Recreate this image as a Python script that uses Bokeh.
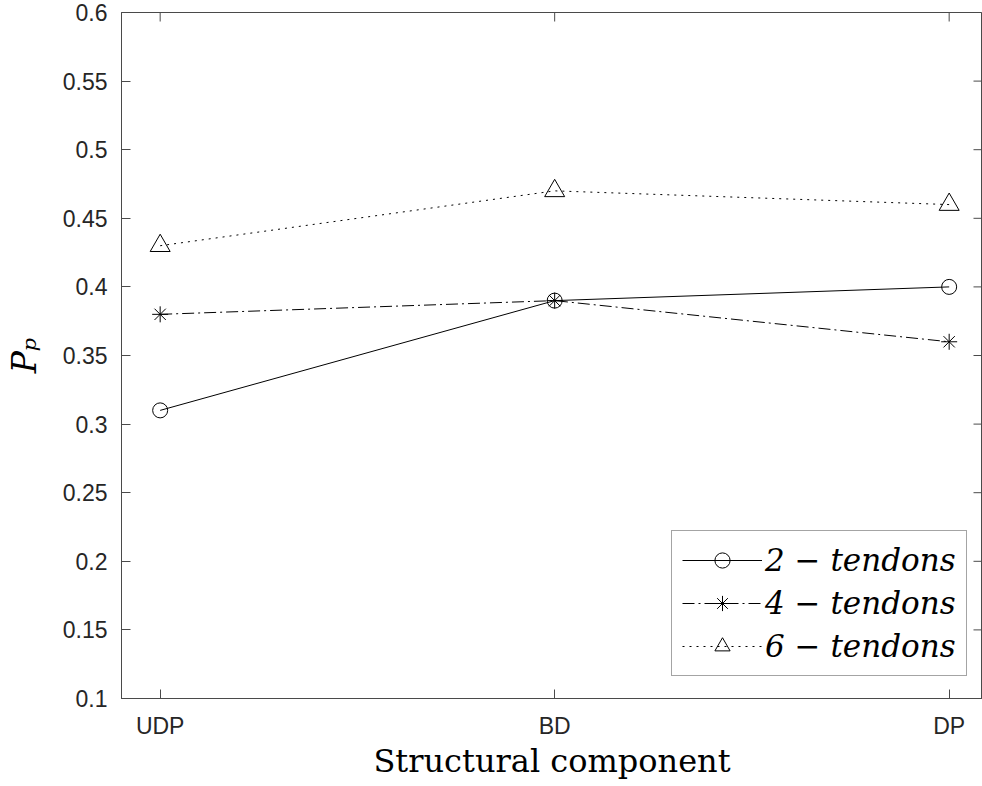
from bokeh.plotting import figure
from bokeh.models import Range1d, FixedTicker, Legend, LegendItem
from bokeh.embed import file_html
from bokeh.resources import INLINE

# ---- data ----
categories = ["UDP", "BD", "DP"]
cat_pos = [1, 2, 3]
tendons2 = [0.31, 0.39, 0.40]
tendons4 = [0.38, 0.39, 0.36]
tendons6 = [0.43, 0.47, 0.46]
series_labels = ["2 \u2212 tendons", "4 \u2212 tendons", "6 \u2212 tendons"]
y_ticks = [0.1, 0.15, 0.2, 0.25, 0.3, 0.35, 0.4, 0.45, 0.5, 0.55, 0.6]
y_tick_labels = ["0.1", "0.15", "0.2", "0.25", "0.3", "0.35", "0.4", "0.45", "0.5", "0.55", "0.6"]
x_title = "Structural component"
y_title = "P\u209a"

AX = "#4a4a4a"
TXT = "#262626"
FIG_W, FIG_H = 982, 786
B_LEFT, B_TOP, B_RIGHT = 121, 12, 0
FRAME_H = 686
FRAME_W = FIG_W - B_LEFT - B_RIGHT
X0 = 0.902
PX_PER_X = 394.5
X1 = X0 + FRAME_W / PX_PER_X
Y0, Y1 = 0.1, 0.6
PX_PER_Y = FRAME_H / (Y1 - Y0)

p = figure(width=FIG_W, height=FIG_H,
           x_range=Range1d(X0, X1), y_range=Range1d(Y0, Y1),
           output_backend="svg", toolbar_location=None,
           min_border_left=B_LEFT, min_border_right=B_RIGHT,
           min_border_top=B_TOP, min_border_bottom=FIG_H - B_TOP - FRAME_H,
           background_fill_color="white", border_fill_color="white")
p.grid.visible = False
p.outline_line_color = AX
p.outline_line_width = 1

xa = p.xaxis[0]
xa.ticker = FixedTicker(ticks=cat_pos)
xa.major_label_overrides = {c: l for c, l in zip(cat_pos, categories)}
xa.axis_label = x_title
ya = p.yaxis[0]
ya.ticker = FixedTicker(ticks=y_ticks)
ya.major_label_overrides = {t: l for t, l in zip(y_ticks, y_tick_labels)}
ya.axis_label = y_title

for ax in (xa, ya):
    ax.axis_line_color = AX
    ax.major_tick_line_color = AX
    ax.major_tick_in = 9
    ax.major_tick_out = 0
    ax.minor_tick_line_color = None
    ax.major_label_text_font = "Liberation Sans"
    ax.major_label_text_font_size = "23px"
    ax.major_label_text_color = TXT
    ax.axis_label_text_font = "DejaVu Serif"
    ax.axis_label_text_color = "black"
xa.major_label_standoff = 14
xa.axis_label_standoff = 0
xa.axis_label_text_font_size = "32px"
xa.axis_label_text_font_style = "normal"
ya.major_label_standoff = 14
ya.axis_label_standoff = 16
ya.axis_label_text_font_size = "33px"
ya.axis_label_text_font_style = "italic"

# mirrored inward ticks on the top and right edges (MATLAB box style)
tx = 9 / PX_PER_X
ty = 9 / PX_PER_Y
p.segment(x0=cat_pos, y0=[Y1] * len(cat_pos), x1=cat_pos, y1=[Y1 - ty] * len(cat_pos),
          line_color=AX, line_width=1)
p.segment(x0=[X1] * len(y_ticks), y0=y_ticks, x1=[X1 - tx] * len(y_ticks), y1=y_ticks,
          line_color=AX, line_width=1)

# series
l2 = p.line(cat_pos, tendons2, line_color="black", line_width=1)
m2 = p.scatter(cat_pos, tendons2, marker="circle", size=15, fill_color=None,
               line_color="black", line_width=1)
l4 = p.line(cat_pos, tendons4, line_color="black", line_width=1, line_dash="12 4 2 4")
m4 = p.scatter(cat_pos, tendons4, marker="asterisk", size=16, line_color="black", line_width=1)
l6 = p.line(cat_pos, tendons6, line_color="black", line_width=1, line_dash="2 5")
m6 = p.scatter(cat_pos, tendons6, marker="triangle", size=20, fill_color=None,
               line_color="black", line_width=1)

legend = Legend(items=[LegendItem(label=series_labels[0], renderers=[l2, m2]),
                       LegendItem(label=series_labels[1], renderers=[l4, m4]),
                       LegendItem(label=series_labels[2], renderers=[l6, m6])],
                location=(550, 22), glyph_width=80, glyph_height=38, label_height=38,
                spacing=5, padding=10, margin=0, label_standoff=3,
                label_text_font="DejaVu Serif", label_text_font_style="italic",
                label_text_font_size="31px", label_text_color="black",
                border_line_color=AX, border_line_width=1,
                background_fill_color="white", background_fill_alpha=1)
p.add_layout(legend, "center")

open("out.html", "w").write(file_html(p, INLINE))
